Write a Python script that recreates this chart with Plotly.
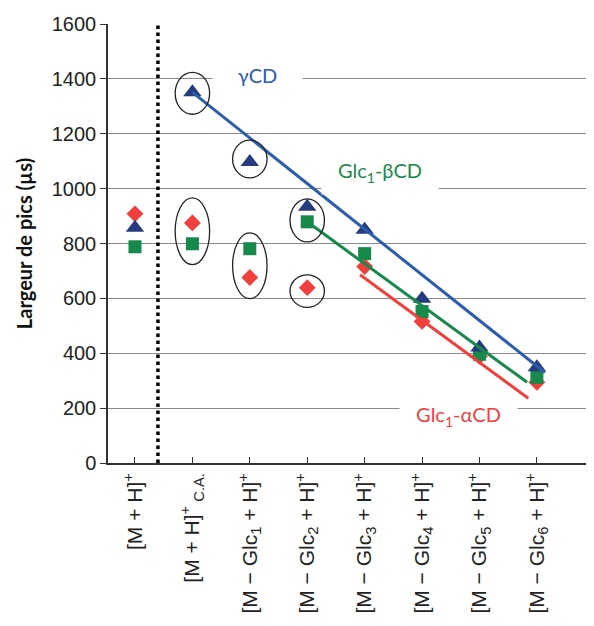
import plotly.graph_objects as go

# ---- data ----
categories = [
    "[M + H]<sup>+</sup>",
    "[M + H]<sup>+</sup><sub> C.A.</sub>",
    "[M − Glc<sub>1</sub> + H]<sup>+</sup>",
    "[M − Glc<sub>2</sub> + H]<sup>+</sup>",
    "[M − Glc<sub>3</sub> + H]<sup>+</sup>",
    "[M − Glc<sub>4</sub> + H]<sup>+</sup>",
    "[M − Glc<sub>5</sub> + H]<sup>+</sup>",
    "[M − Glc<sub>6</sub> + H]<sup>+</sup>",
]
cat_pos = [0, 1, 2, 3, 4, 5, 6, 7]

gamma_cd = [857, 1351, 1097, 934, 850, 599, 421, 349]
beta_cd = [788, 799, 781, 879, 763, 552, 396, 312]
alpha_cd = [908, 875, 676, 639, 716, 516, 389, 294]

# regression lines (category position, value)
gamma_fit_x = [1, 7.14]
gamma_fit_y = [1351, 330]
beta_fit_x = [3, 6.83]
beta_fit_y = [879, 294]
alpha_fit_x = [3.92, 6.85]
alpha_fit_y = [686, 236]

y_ticks = [0, 200, 400, 600, 800, 1000, 1200, 1400, 1600]

# circled groups: (category position, y low, y high)
circled = [
    (1, 1271, 1424),
    (1, 723, 966),
    (2, 1039, 1177),
    (2, 599, 839),
    (3, 806, 963),
    (3, 567, 686),
]

NAVY = "#263b7e"
BLUE = "#2b5cae"
GREEN = "#17894a"
RED = "#f0403e"

fig = go.Figure()

fig.add_trace(go.Scatter(x=cat_pos, y=alpha_cd, mode="markers",
                         marker=dict(symbol="diamond", size=13, color=RED, line=dict(width=0)),
                         showlegend=False))
fig.add_trace(go.Scatter(x=cat_pos, y=beta_cd, mode="markers",
                         marker=dict(symbol="square", size=13, color=GREEN, line=dict(width=0)),
                         showlegend=False))
fig.add_trace(go.Scatter(x=cat_pos, y=gamma_cd, mode="markers",
                         marker=dict(symbol="triangle-up", size=16, color=NAVY, line=dict(width=0)),
                         showlegend=False))

fig.add_trace(go.Scatter(x=alpha_fit_x, y=alpha_fit_y, mode="lines",
                         line=dict(color=RED, width=3), showlegend=False))
fig.add_trace(go.Scatter(x=beta_fit_x, y=beta_fit_y, mode="lines",
                         line=dict(color=GREEN, width=3), showlegend=False))
fig.add_trace(go.Scatter(x=gamma_fit_x, y=gamma_fit_y, mode="lines",
                         line=dict(color=BLUE, width=3), showlegend=False))

# dotted separator
fig.add_shape(type="line", xref="x", yref="y", x0=0.4, x1=0.4, y0=0, y1=1600,
              line=dict(color="black", width=3.5, dash="dot"), layer="above")

for cx, ylo, yhi in circled:
    fig.add_shape(type="circle", xref="x", yref="y",
                  x0=cx - 0.3, x1=cx + 0.3, y0=ylo, y1=yhi,
                  line=dict(color="#222222", width=1.3), layer="above")

label_font = "Lato, 'Open Sans', sans-serif"
fig.add_annotation(x=2.13, y=1413, text="γCD", showarrow=False,
                   font=dict(family=label_font, size=20, color=BLUE),
                   bgcolor="white", width=87, height=30)
fig.add_annotation(x=4.27, y=1061, text="Glc<sub>1</sub>-βCD", showarrow=False,
                   font=dict(family=label_font, size=20, color=GREEN),
                   bgcolor="white", width=114, height=42)
fig.add_annotation(x=5.63, y=171, text="Glc<sub>1</sub>-αCD", showarrow=False,
                   font=dict(family=label_font, size=20, color=RED),
                   bgcolor="white", width=115, height=34)

fig.update_layout(
    width=586, height=618,
    margin=dict(l=100, r=2, t=16, b=163),
    plot_bgcolor="white", paper_bgcolor="white",
    font=dict(family="Liberation Sans, Arial, sans-serif", color="#222222"),
)
fig.update_xaxes(
    range=[-0.47, 7.96], tickmode="array", tickvals=cat_pos, ticktext=categories,
    tickangle=-90, ticks="inside", ticklen=6, tickcolor="#333333",
    showline=True, linecolor="#333333", linewidth=1.5, showgrid=False, zeroline=False,
    tickfont=dict(size=21, color="#222222"), automargin=False,
)
fig.update_yaxes(
    range=[0, 1600], tickmode="array", tickvals=y_ticks,
    ticks="outside", ticklen=6, tickcolor="#333333",
    showline=True, linecolor="#333333", linewidth=1.5,
    showgrid=True, gridcolor="#8a8a8a", gridwidth=1, zeroline=False,
    tickfont=dict(size=20, color="#222222"), automargin=False,
    title=dict(text="<b>Largeur de pics (µs)</b>", standoff=14,
               font=dict(family=label_font, size=20, color="#111111")),
)

fig.write_html("out.html")
